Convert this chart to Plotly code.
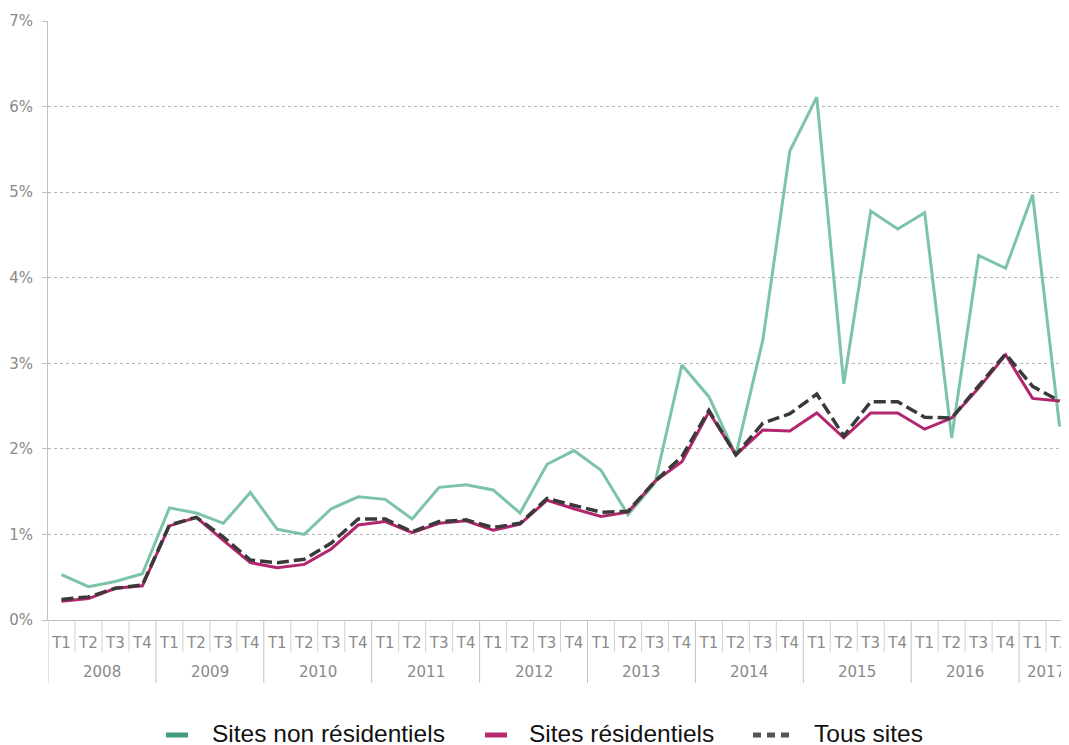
import plotly.graph_objects as go

years = ["2008"] * 4 + ["2009"] * 4 + ["2010"] * 4 + ["2011"] * 4 + ["2012"] * 4 + \
        ["2013"] * 4 + ["2014"] * 4 + ["2015"] * 4 + ["2016"] * 4 + ["2017"] * 2
quarters = ["T1", "T2", "T3", "T4"] * 9 + ["T1", "T2"]

non_residentiels = [0.53, 0.39, 0.45, 0.54, 1.31, 1.25, 1.13, 1.49, 1.06, 1.00, 1.30, 1.44,
                    1.41, 1.18, 1.55, 1.58, 1.52, 1.25, 1.82, 1.98, 1.75, 1.23, 1.60, 2.98,
                    2.61, 1.93, 3.27, 5.48, 6.11, 2.76, 4.78, 4.57, 4.76, 2.13, 4.26, 4.11,
                    4.97, 2.26]
residentiels = [0.22, 0.25, 0.37, 0.40, 1.10, 1.20, 0.93, 0.67, 0.61, 0.65, 0.83, 1.11,
                1.15, 1.02, 1.13, 1.16, 1.05, 1.12, 1.40, 1.30, 1.21, 1.26, 1.62, 1.85,
                2.43, 1.93, 2.22, 2.21, 2.42, 2.13, 2.42, 2.42, 2.23, 2.36, 2.71, 3.10,
                2.59, 2.56]
tous_sites = [0.24, 0.27, 0.37, 0.41, 1.11, 1.20, 0.97, 0.70, 0.67, 0.71, 0.90, 1.18,
              1.18, 1.03, 1.15, 1.17, 1.08, 1.13, 1.42, 1.34, 1.26, 1.27, 1.62, 1.91,
              2.45, 1.93, 2.30, 2.41, 2.64, 2.15, 2.55, 2.55, 2.37, 2.36, 2.73, 3.11,
              2.73, 2.56]

series_names = ["Sites non résidentiels", "Sites résidentiels", "Tous sites"]

y_ticks = [0, 1, 2, 3, 4, 5, 6, 7]
y_labels = [f"{v}%" for v in y_ticks]

# ---- styling / layout constants ----
# the page body has an 8px margin: the figure is shifted so the plot area
# lands at the reference position (x 48..1069, y 21..620 in the window)
OFF = 8
W, H = 1069, 745
ML, MR, MT, MB = 48 - OFF, OFF, 21 - OFF, 125 + OFF
PLOT_W = W - ML - MR
PLOT_H = H - MT - MB
line_colors = ["#7cc4a7", "#b1266c", "#3a3a3a"]
legend_colors = ["#439c7c", "#b32a6e", "#555555"]
tick_font = dict(family="DejaVu Sans", size=15, color="#8a8a8a")


def py(px_below_axis):
    """pixel offset below the x axis -> paper y coordinate"""
    return -px_below_axis / PLOT_H


def px(page_x):
    """page pixel x -> paper x coordinate"""
    return (page_x - 48) / PLOT_W


idx = list(range(len(quarters)))

fig = go.Figure()
fig.add_trace(go.Scatter(x=idx, y=non_residentiels, mode="lines", name=series_names[0],
                         line=dict(color=line_colors[0], width=3), showlegend=False))
fig.add_trace(go.Scatter(x=idx, y=residentiels, mode="lines", name=series_names[1],
                         line=dict(color=line_colors[1], width=3), showlegend=False))
fig.add_trace(go.Scatter(x=idx, y=tous_sites, mode="lines", name=series_names[2],
                         line=dict(color=line_colors[2], width=3.5, dash="12px,5px"),
                         showlegend=False))

shapes = []
annotations = []

# category separators: short ticks between quarters, long dividers between years
shapes.append(dict(type="line", xref="x", yref="paper", x0=-0.5, x1=-0.5,
                   y0=0, y1=py(63), line=dict(color="#c4c4c4", width=1)))
for i in range(1, len(quarters)):
    b = i - 0.5
    if years[i] != years[i - 1]:
        shapes.append(dict(type="line", xref="x", yref="paper", x0=b, x1=b,
                           y0=0, y1=py(63), line=dict(color="#c4c4c4", width=1)))
    else:
        shapes.append(dict(type="line", xref="x", yref="paper", x0=b, x1=b,
                           y0=0, y1=py(32), line=dict(color="#d2d2d2", width=1)))

# year labels
seen = []
for y in years:
    if y not in seen:
        seen.append(y)
for y in seen:
    pos = [i for i in idx if years[i] == y]
    annotations.append(dict(x=sum(pos) / len(pos), y=py(52), xref="x", yref="paper",
                            text=y, showarrow=False, font=tick_font,
                            xanchor="center", yanchor="middle"))

# custom legend
leg_items = [
    (166, 188, 210, "solid"),
    (485, 507, 527, "solid"),
    (753, 789, 812, "8px,6px"),
]
for k, (sx0, sx1, tx, dash) in enumerate(leg_items):
    shapes.append(dict(type="line", xref="paper", yref="paper",
                       x0=px(sx0), x1=px(sx1), y0=py(115), y1=py(115),
                       line=dict(color=legend_colors[k], width=5, dash=dash)))
    annotations.append(dict(x=px(tx), y=py(113), xref="paper", yref="paper",
                            text=series_names[k], showarrow=False, xanchor="left",
                            yanchor="middle",
                            font=dict(family="Liberation Sans, Arial", size=24.5,
                                      color="#111111")))

fig.update_layout(
    width=W, height=H,
    margin=dict(l=ML, r=MR, t=MT, b=MB, autoexpand=False),
    plot_bgcolor="white", paper_bgcolor="white",
    showlegend=False,
    shapes=shapes,
    annotations=annotations,
    xaxis=dict(range=[-0.5, 37.35], tickvals=idx, ticktext=quarters, ticks="",
               showline=True, linecolor="#bfbfbf", linewidth=1, showgrid=False,
               zeroline=False, tickfont=tick_font, tickangle=0, ticklabelstandoff=9,
               automargin=False),
    yaxis=dict(range=[0, 7], tickvals=y_ticks, ticktext=y_labels, showgrid=True,
               gridcolor="#b5b5b5", griddash="dot", gridwidth=1, zeroline=False,
               showline=True, linecolor="#bfbfbf", linewidth=1,
               ticks="outside", ticklen=5, tickcolor="#bfbfbf",
               tickfont=tick_font, ticklabelstandoff=6, automargin=False),
)

fig.write_html("out.html")
